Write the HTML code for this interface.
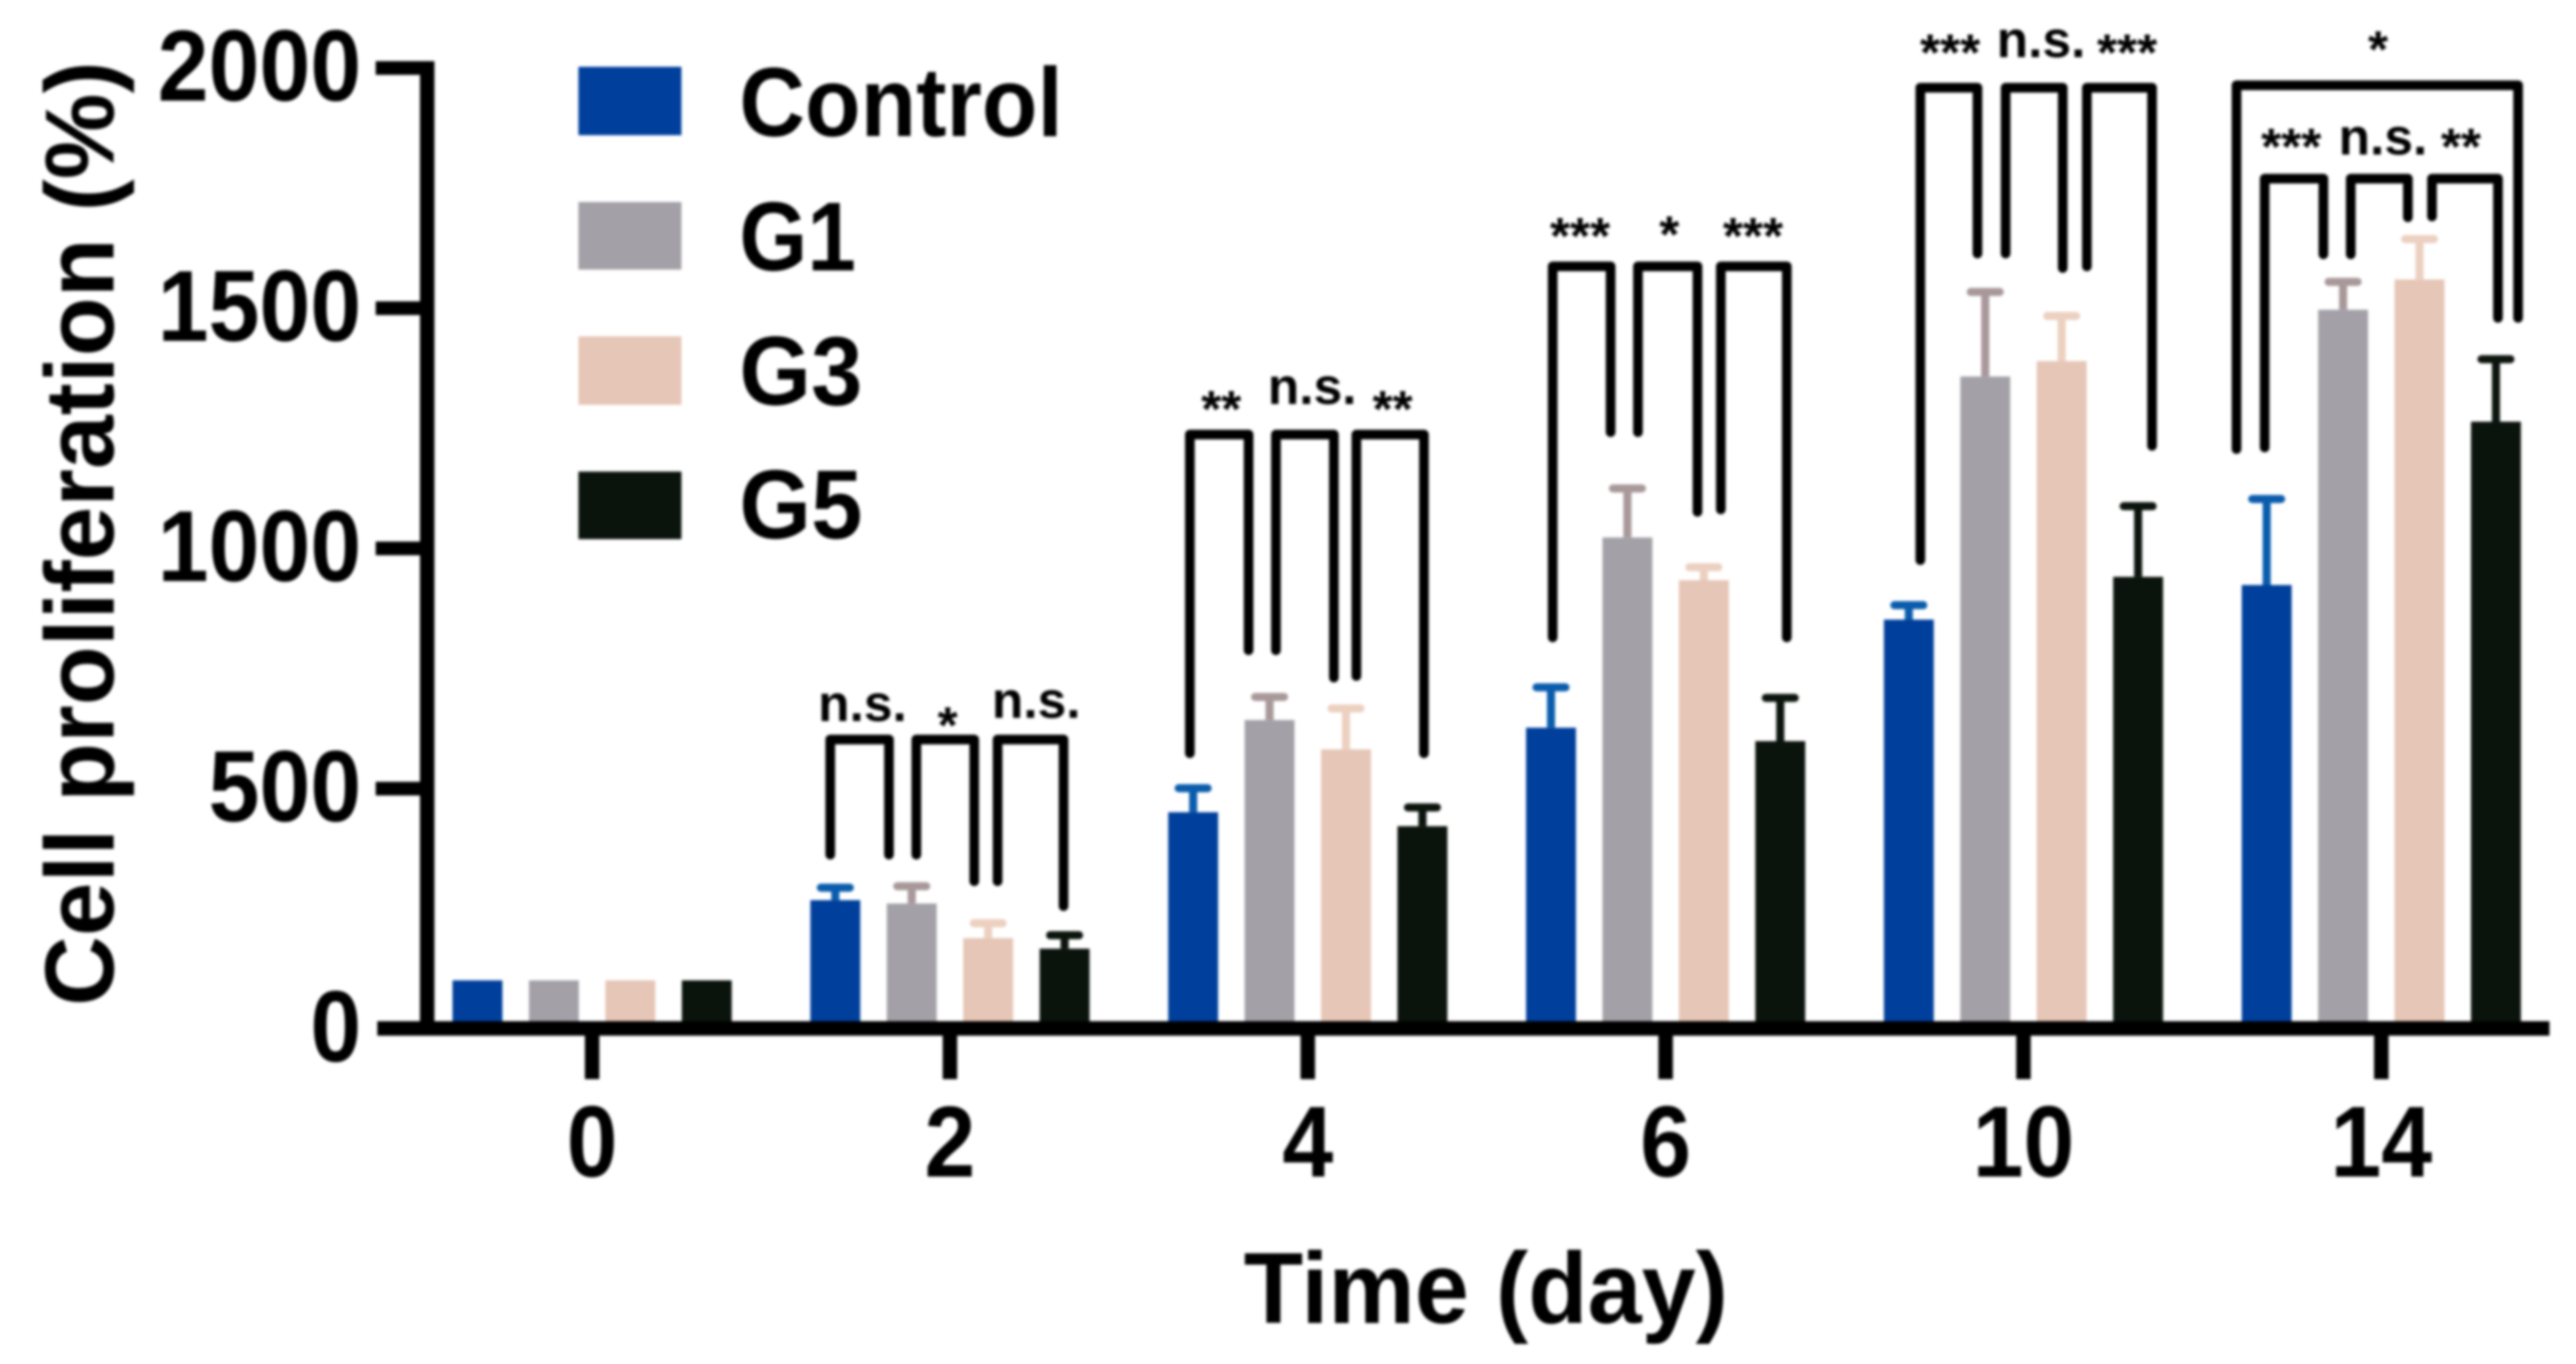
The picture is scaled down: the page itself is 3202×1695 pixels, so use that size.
<!DOCTYPE html>
<html lang="en">
<head>
<meta charset="utf-8">
<title>Cell proliferation over time</title>
<style>
html,body{margin:0;padding:0;background:#fff;width:3202px;height:1695px;overflow:hidden}
svg{display:block;filter:blur(1.8px)}
text{font-family:"Liberation Sans",sans-serif;font-weight:bold;fill:#000}
.br{fill:none;stroke:#000;stroke-width:12;stroke-linejoin:round;stroke-linecap:round}
.sig{font-size:64px;text-anchor:middle}
</style>
</head>
<body>
<svg id="chart" xmlns="http://www.w3.org/2000/svg" width="3202" height="1695" viewBox="0 0 3202 1695">
  <rect width="3202" height="1695" fill="#fff"/>
  <g id="bars"></g>
  <g id="axes"></g>

  <text transform="translate(141,1250) rotate(-90)" font-size="122" textLength="1174" lengthAdjust="spacingAndGlyphs">Cell proliferation (%)</text>
  <text x="1546" y="1644" font-size="125" textLength="602" lengthAdjust="spacingAndGlyphs">Time (day)</text>

  <g>
    <rect x="719" y="83" width="128" height="85" fill="#00409c"/>
    <text x="919" y="169" font-size="122" textLength="402" lengthAdjust="spacingAndGlyphs">Control</text>
    <rect x="719" y="251" width="128" height="84" fill="#a3a1a7"/>
    <text x="919" y="336" font-size="122" textLength="145" lengthAdjust="spacingAndGlyphs">G1</text>
    <rect x="719" y="418" width="128" height="85" fill="#e6c6b6"/>
    <text x="919" y="503" font-size="122" textLength="153" lengthAdjust="spacingAndGlyphs">G3</text>
    <rect x="719" y="586" width="128" height="84" fill="#0b130d"/>
    <text x="919" y="669" font-size="122" textLength="153" lengthAdjust="spacingAndGlyphs">G5</text>
  </g>

  <g>
    <path class="br" d="M1032 1062V919H1105V1062"/>
    <path class="br" d="M1139 1062V919H1211V1095"/>
    <path class="br" d="M1240 1095V919H1322V1126"/>
    <text class="sig" x="1072" y="896">n.s.</text>
    <text class="sig" x="1178" y="923">*</text>
    <text class="sig" x="1288" y="892">n.s.</text>
  </g>

  <g>
    <path class="br" d="M1479 936V540H1552V808"/>
    <path class="br" d="M1586 808V540H1658V842"/>
    <path class="br" d="M1686 840V540H1770V936"/>
    <text class="sig" x="1518" y="530">**</text>
    <text class="sig" x="1631" y="502">n.s.</text>
    <text class="sig" x="1731" y="530">**</text>
  </g>

  <g>
    <path class="br" d="M1930 792V331H2002V537"/>
    <path class="br" d="M2036 537V331H2110V636"/>
    <path class="br" d="M2139 633V331H2221V792"/>
    <text class="sig" x="1964" y="315">***</text>
    <text class="sig" x="2075" y="313">*</text>
    <text class="sig" x="2179" y="315">***</text>
  </g>

  <g>
    <path class="br" d="M2387 696V109H2458V315"/>
    <path class="br" d="M2493 315V109H2564V333"/>
    <path class="br" d="M2594 331V109H2675V554"/>
    <text class="sig" x="2424" y="87">***</text>
    <text class="sig" x="2537" y="71">n.s.</text>
    <text class="sig" x="2644" y="87">***</text>
  </g>

  <g>
    <path class="br" d="M2780 558V106H3130V395"/>
    <path class="br" d="M2815 556V222H2888V316"/>
    <path class="br" d="M2922 316V222H2993V270"/>
    <path class="br" d="M3023 269V222H3105V395"/>
    <text class="sig" x="2956" y="83">*</text>
    <text class="sig" x="2848" y="204">***</text>
    <text class="sig" x="2962" y="192">n.s.</text>
    <text class="sig" x="3059" y="204">**</text>
  </g>
</svg>

<script>
const categories = ['0', '2', '4', '6', '10', '14'];
const yTickLabels = ['0', '500', '1000', '1500', '2000'];
const yTickValues = [0, 500, 1000, 1500, 2000];

const controlValues = [100, 267, 450, 626, 851, 923];
const g1Values = [100, 260, 642, 1022, 1357, 1496];
const g3Values = [100, 188, 581, 933, 1389, 1559];
const g5Values = [100, 166, 421, 598, 940, 1263];

const controlErrors = [0, 26, 50, 84, 30, 179];
const g1Errors = [0, 36, 48, 102, 176, 58];
const g3Errors = [0, 31, 85, 27, 94, 84];
const g5Errors = [0, 28, 39, 90, 147, 130];

const NS = 'http://www.w3.org/2000/svg';

function yScale(v) { return 1278 - v * 0.597; }
function xBand(i) { return 736 + 444.8 * i; }
function xBar(i, s) { return xBand(i) + (s - 1.5) * 95; }

function make(tag, attrs, parent) {
  const el = document.createElementNS(NS, tag);
  Object.keys(attrs).forEach(function (k) { el.setAttribute(k, attrs[k]); });
  parent.appendChild(el);
  return el;
}

const seriesList = [
  { id: 'control', values: controlValues, errors: controlErrors, fill: '#00409c', err: '#0a5cac' },
  { id: 'g1', values: g1Values, errors: g1Errors, fill: '#a3a1a7', err: '#a8989a' },
  { id: 'g3', values: g3Values, errors: g3Errors, fill: '#e6c6b6', err: '#ecd0c0' },
  { id: 'g5', values: g5Values, errors: g5Errors, fill: '#0b130d', err: '#0c140e' }
];

const barsLayer = document.getElementById('bars');
const axesLayer = document.getElementById('axes');

seriesList.forEach(function (series, s) {
  categories.forEach(function (cat, i) {
    const cx = xBar(i, s);
    const top = yScale(series.values[i]);
    if (series.errors[i] > 0) {
      const errTop = yScale(series.values[i] + series.errors[i]);
      const stem = make('line', { x1: cx, x2: cx, y1: top, y2: errTop, stroke: series.err, 'stroke-width': 10 }, barsLayer);
      
      
      const cap = make('line', { x1: cx - 18, x2: cx + 18, y1: errTop, y2: errTop, stroke: series.err, 'stroke-width': 10, 'stroke-linecap': 'round' }, barsLayer);
      
      
    }
    const bar = make('rect', { x: cx - 31, y: top, width: 62, height: yScale(0) - top, fill: series.fill }, barsLayer);
    
    
  });
});

const yAxisLine = make('rect', { x: 522, y: 76, width: 18, height: 1211, fill: '#000' }, axesLayer);



const xAxisLine = make('rect', { x: 469, y: 1269, width: 2700, height: 18, fill: '#000' }, axesLayer);



yTickValues.forEach(function (v, i) {
  const ty = yScale(v);
  if (v > 0) {
    const tick = make('rect', { x: 467, y: ty - 8, width: 60, height: 17, fill: '#000' }, axesLayer);
    
    
  }
  const label = make('text', { x: 449, y: ty + 41, 'font-size': 125, 'text-anchor': 'end', textLength: yTickLabels[i].length * 63.25, lengthAdjust: 'spacingAndGlyphs' }, axesLayer);
  label.textContent = yTickLabels[i];
  
  
});

categories.forEach(function (cat, i) {
  const tx = xBand(i);
  const tick = make('rect', { x: tx - 9, y: 1280, width: 18, height: 61, fill: '#000' }, axesLayer);
  
  
  const label = make('text', { x: tx, y: 1462, 'font-size': 125, 'text-anchor': 'middle', textLength: cat.length * 63.25, lengthAdjust: 'spacingAndGlyphs' }, axesLayer);
  label.textContent = cat;
  
  
});
</script>
</body>
</html>
